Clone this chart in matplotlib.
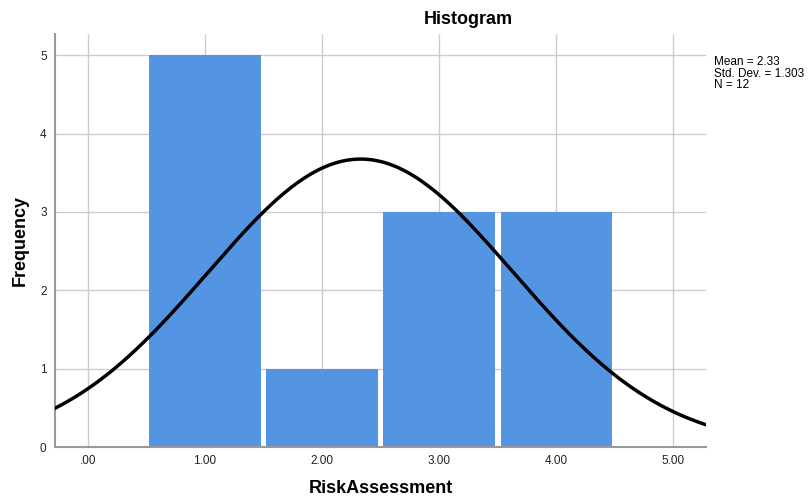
import numpy as np
import matplotlib as mpl
mpl.use('Agg')
import matplotlib.pyplot as plt

# histogram data (RiskAssessment)
bin_centers = [1.0, 2.0, 3.0, 4.0]
frequency = [5, 1, 3, 3]
mean = 2.33
std_dev = 1.303
n = 12
xticks = [0, 1, 2, 3, 4, 5]
xtick_labels = ['.00', '1.00', '2.00', '3.00', '4.00', '5.00']
yticks = [0, 1, 2, 3, 4, 5]

plt.rcParams['font.family'] = ['Liberation Sans', 'DejaVu Sans']

fig = plt.figure(figsize=(8.08, 4.97), dpi=100)
ax = fig.add_axes([0.068, 0.1006, 0.806, 0.831])

ax.bar(bin_centers, frequency, width=0.95, color='#5394e3',
       linewidth=0, zorder=2)

# normal curve scaled to counts
xs = np.linspace(-0.28, 5.28, 300)
ys = n * 1.0 / (std_dev * np.sqrt(2 * np.pi)) * np.exp(-0.5 * ((xs - mean) / std_dev) ** 2)
ax.plot(xs, ys, color='black', linewidth=2.5, zorder=3)

ax.set_xlim(-0.28, 5.28)
ax.set_ylim(0, 5.27)
ax.set_xticks(xticks)
ax.set_xticklabels(xtick_labels)
ax.set_yticks(yticks)
ax.grid(True, color='#cccccc', linewidth=1.0, zorder=0)
ax.set_axisbelow(True)
ax.tick_params(length=0, labelsize=8.5, colors='#222222')
ax.tick_params(axis='x', pad=6)
ax.tick_params(axis='y', pad=6)

for s in ['top', 'right']:
    ax.spines[s].set_visible(False)
for s in ['left', 'bottom']:
    ax.spines[s].set_color('#999999')
    ax.spines[s].set_linewidth(1.5)

fig.text(468 / 808, 1 - 20 / 497, 'Histogram', fontsize=13, fontweight='bold',
         ha='center', va='center')
ax.set_xlabel('RiskAssessment', fontsize=13, fontweight='bold', labelpad=9)
ax.set_ylabel('Frequency', fontsize=13, fontweight='bold', labelpad=8)

fig.text(714 / 808, 1 - 56 / 497,
         'Mean = %.2f\nStd. Dev. = %.3f\nN = %d' % (mean, std_dev, n),
         fontsize=8.5, va='top', ha='left', linespacing=0.95)

plt.savefig('out.png', dpi=100)
